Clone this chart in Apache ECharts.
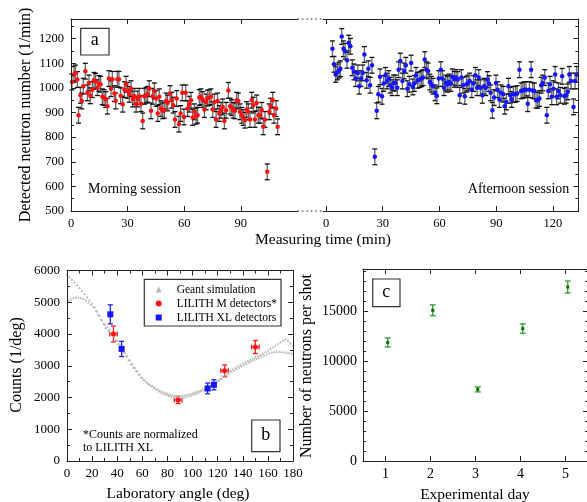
<!DOCTYPE html>
<html><head><meta charset="utf-8">
<script src="https://cdn.jsdelivr.net/npm/echarts@6/dist/echarts.min.js"></script>
<style>html,body{margin:0;padding:0;background:#fff}#c{width:587px;height:502px}</style>
</head><body><div id="c"></div>
<script>
// ---------- Panel a: morning session ----------
const morningTime = [0.5,1.6,2.3,3.4,4,5,5.7,6.5,7.6,8.7,9.5,10.2,11.3,12.2,13,14,14.8,15.7,16.6,17.5,18.4,19.3,20.1,21.2,21.9,23,23.7,24.6,25.4,26.3,27.4,28.3,29.2,30,30.9,31.8,32.7,33.6,34.5,35.3,36.2,37.1,38,38.9,39.8,40.6,41.5,42.4,43.3,44.2,45.1,46,46.8,47.7,48.6,49.5,50.4,51.2,52.5,53.4,54.2,55.1,56,57.2,58.1,59,59.9,60.8,61.8,62.7,63.6,64.5,65.4,66.3,67.1,68,68.9,69.8,70.7,71.6,72.4,73.3,74.2,75.1,76,76.9,77.7,78.6,79.5,80.4,81.3,82.2,83.4,84.3,85.2,86,86.9,87.8,88.7,89.6,90.5,91.3,92.2,93.1,94,94.9,95.8,96.6,97.5,98.4,99.3,100.2,101.1,101.9,102.8,104,105.1,105.8,106.9,107.6,108.7,109.5];
const morningCounts = [1024,1055,1061,1034,889,970,947,1007,1068,980,1020,968,993,1031,1027,1001,1018,1015,964,961,953,926,1038,997,1035,977,947,1035,1035,968,934,993,1015,990,974,997,955,966,934,955,966,936,866,966,970,974,997,907,966,988,957,896,964,916,907,909,947,939,977,950,930,872,957,853,896,980,882,980,916,934,950,880,903,885,889,961,964,953,912,943,959,961,964,912,943,872,947,896,909,923,866,909,990,926,920,909,907,950,947,903,889,880,869,912,903,872,950,930,872,939,889,889,909,842,872,659,903,926,950,889,916,842];
// ---------- Panel a: afternoon session ----------
const afternoonTime = [3.4,4.2,5.1,6,6.9,7.6,8.3,9.2,10.1,11.1,12,12.9,13.9,14.8,15.7,16.8,17.6,18.5,19.4,20.3,21.5,22.4,23.3,24.3,25.8,26.8,27.7,28.6,29.6,30.5,31.4,32.3,33.2,34,34.9,35.8,36.7,37.7,38.4,39.3,40.4,41.3,42.2,43,44.1,45,45.9,46.7,47.6,48.5,49.7,50.6,51.3,52.2,53.1,54,54.9,55.7,56.6,57.7,58.6,59.6,60.7,61.6,62.4,63.3,64.2,65.1,66,66.8,67.9,68.8,69.7,70.7,71.6,72.5,73.4,74.3,75.1,76,77.1,78,79,79.9,80.8,81.7,82.7,83.6,84.5,85.4,86.2,87.1,88,88.9,89.9,90.8,91.7,92.6,93.7,94.5,95.4,96.5,97.4,98.2,99.1,100.2,101.1,102.3,103.2,104.1,104.9,105.8,106.7,107.6,108.5,109.3,110.2,111.1,112,112.9,113.8,114.6,115.7,116.8,117.6,118.5,119.4,120.3,121.2,122,122.9,124,124.9,126.1,127,127.9,128.7,129.6,130.9,131.7,132.6];
const afternoonCounts = [1159,1096,1055,1065,1072,1078,1209,1159,1149,1112,1182,1169,1082,1065,1038,1061,1007,1038,1061,1136,1031,1078,1011,1092,720,907,974,1045,966,1018,1051,1028,1038,1011,1001,1020,1020,1001,1074,1109,1028,1069,1092,997,1015,1101,1004,1018,1051,1031,1034,1038,1042,1115,1074,1069,1024,1015,1007,980,968,1038,1074,1038,1001,1020,1015,1024,1018,1045,1035,1042,1034,970,1042,1011,966,1015,1020,1028,993,1018,1051,1001,1042,1001,970,1007,1001,1034,1018,980,909,961,1020,993,953,980,974,926,943,1007,970,953,974,974,977,1074,988,990,993,993,936,993,1074,990,988,950,950,957,1011,1020,1042,889,988,1015,964,997,1055,964,988,970,1047,966,970,984,1055,1028,923,1028,1055];
const countError = 32;
const timeTicks = [0, 30, 60, 90, 120];

// ---------- Panel b ----------
const simAngleA = [0,2,4,6,8,10,12,14,16,18,20,22,24,26,28,30,32,34,36,38,40,42,44,46,48,50,52,54,56,58,60,62,64,66,68,70,72,74,76,78,80,82,84,86,88,90,92,94,96,98,100,102,104,106,108,110,112,114,116,118,120,122,124,126,128,130,132,134,136,138,140,142,144,146,148,150,152,154,156,158,160,162,164,166,168,170,172,174,176,178,180];
const simCountA = [5870,5800,5720,5640,5550,5460,5370,5270,5170,5070,4970,4850,4720,4580,4440,4320,4230,4150,4050,3930,3800,3680,3550,3420,3300,3180,3060,2950,2840,2730,2620,2550,2480,2420,2370,2320,2270,2230,2190,2160,2130,2100,2080,2060,2050,2050,2070,2080,2100,2120,2140,2170,2200,2230,2270,2300,2340,2380,2430,2480,2540,2600,2670,2740,2800,2850,2900,2950,2990,3040,3080,3120,3160,3200,3240,3280,3310,3350,3390,3440,3490,3540,3590,3640,3700,3750,3800,3840,3800,3720,3640];
const simAngleB = [1,3,5,7,9,11,13,15,17,19,21,23,25,27,29,31,33,35,37,39,41,43,45,47,49,51,53,55,57,59,61,63,65,67,69,71,73,75,77,79,81,83,85,87,89,91,93,95,97,99,101,103,105,107,109,111,113,115,117,119,121,123,125,127,129,131,133,135,137,139,141,143,145,147,149,151,153,155,157,159,161,163,165,167,169,171,173,175,177,179];
const simCountB = [5060,5100,5140,5160,5160,5140,5110,5060,5000,4930,4850,4740,4610,4470,4330,4200,4110,4030,3930,3810,3690,3560,3430,3300,3180,3060,2950,2840,2730,2640,2560,2490,2420,2360,2300,2250,2200,2160,2120,2090,2060,2030,2010,2000,1995,2000,2010,2030,2050,2070,2100,2130,2160,2200,2230,2270,2310,2360,2410,2470,2530,2590,2650,2710,2760,2810,2860,2900,2950,2990,3030,3070,3110,3150,3190,3220,3260,3300,3330,3370,3400,3420,3440,3450,3450,3440,3430,3420,3410,3390];
const mAngle = [37, 88.5, 125.5, 150];
const mCounts = [4000, 1925, 2840, 3590];
const mCountErr = [250, 115, 185, 205];
const mAngleErr = [3, 3, 3, 3];
const xlAngle = [34.5, 43.5, 112, 117];
const xlCounts = [4620, 3530, 2285, 2400];
const xlCountErr = [300, 240, 170, 160];

// ---------- Panel c ----------
const dayPos = [1.05, 2.05, 3.05, 4.05, 5.05];
const neutronsPerShot = [11850, 15070, 7160, 13240, 17400];
const neutronsErr = [450, 540, 250, 470, 600];
const dayTicks = [1, 2, 3, 4, 5];

// ---------- layout / style ----------
const SERIF = 'Liberation Serif';
const INK = '#222';
const G = {
  mL: 71, mW: 226.4, pL: 323.2, pW: 255.2, aT: 19, aH: 192,
  bL: 67, bT: 270.5, bW: 226, bH: 190.5,
  cL: 363, cT: 269, cW: 225, cH: 192
};

function axis(o) {
  const ax = {
    type: 'value', gridIndex: o.grid, position: o.pos, min: o.min, max: o.max,
    splitLine: {show: false},
    axisLine: {show: o.line !== false, onZero: false, lineStyle: {color: INK, width: 1}},
    axisTick: {show: true, inside: true, length: o.tick || 5, lineStyle: {color: INK, width: 1}},
    axisLabel: {show: !!o.labels, fontFamily: SERIF, fontSize: o.fs || 13, color: '#000',
      margin: o.margin || 6, showMaxLabel: !!o.showMax, showMinLabel: true,
      formatter: function (v) { return String(v); }},
    z: 5
  };
  if (o.interval) ax.interval = o.interval;
  if (o.ticks) { ax.axisTick.customValues = o.ticks; ax.axisLabel.customValues = o.ticks; ax.axisLabel.showMaxLabel = true; }
  if (o.minor) ax.minorTick = {show: true, splitNumber: o.minor, length: 3, lineStyle: {color: INK, width: 1}};
  return ax;
}

function errRender(color, capColor, lw, cap) {
  return function (params, api) {
    const x = api.value(0), y = api.value(1), ey = api.value(2), ex = api.value(3);
    const hi = api.coord([x, y + ey]), lo = api.coord([x, y - ey]);
    const st = {stroke: color, lineWidth: lw};
    const cs = {stroke: capColor, lineWidth: lw};
    const ch = [
      {type: 'line', shape: {x1: hi[0], y1: hi[1], x2: lo[0], y2: lo[1]}, style: st},
      {type: 'line', shape: {x1: hi[0] - cap, y1: hi[1], x2: hi[0] + cap, y2: hi[1]}, style: cs},
      {type: 'line', shape: {x1: lo[0] - cap, y1: lo[1], x2: lo[0] + cap, y2: lo[1]}, style: cs}
    ];
    if (ex > 0) {
      const le = api.coord([x - ex, y]), ri = api.coord([x + ex, y]);
      ch.push({type: 'line', shape: {x1: le[0], y1: le[1], x2: ri[0], y2: ri[1]}, style: st});
      ch.push({type: 'line', shape: {x1: le[0], y1: le[1] - cap, x2: le[0], y2: le[1] + cap}, style: cs});
      ch.push({type: 'line', shape: {x1: ri[0], y1: ri[1] - cap, x2: ri[0], y2: ri[1] + cap}, style: cs});
    }
    return {type: 'group', children: ch};
  };
}
function errSeries(xi, yi, data, render) {
  return {type: 'custom', xAxisIndex: xi, yAxisIndex: yi, data: data, renderItem: render,
    encode: {x: 0, y: 1}, silent: true, z: 3, clip: false};
}
function dots(name, xi, yi, data, color, size, symbol) {
  return {type: 'scatter', name: name, xAxisIndex: xi, yAxisIndex: yi, data: data,
    symbol: symbol || 'circle', symbolSize: size, itemStyle: {color: color, opacity: 1}, z: 4, silent: true};
}
function txt(text, x, y, size, opt) {
  opt = opt || {};
  return {type: 'text', x: x, y: y, rotation: opt.rot || 0, z: 20,
    style: {text: text, fontFamily: SERIF, fontSize: size, fill: '#000',
      align: opt.align || 'center', verticalAlign: 'middle'}};
}
function box(label, x, y, w, h) {
  return [
    {type: 'rect', shape: {x: x, y: y, width: w, height: h}, style: {fill: '#fff', stroke: '#333', lineWidth: 1.2}, z: 19},
    txt(label, x + w / 2, y + h / 2 - 1, 18)
  ];
}

const morningData = morningTime.map((t, i) => [t, morningCounts[i], countError]);
const afternoonData = afternoonTime.map((t, i) => [t, afternoonCounts[i], countError]);
const simA = simAngleA.map((a, i) => [a, simCountA[i]]);
const simB = simAngleB.map((a, i) => [a, simCountB[i]]);
const mData = mAngle.map((a, i) => [a, mCounts[i], mCountErr[i], mAngleErr[i]]);
const xlData = xlAngle.map((a, i) => [a, xlCounts[i], xlCountErr[i]]);
const cData = dayPos.map((d, i) => [d, neutronsPerShot[i], neutronsErr[i]]);

const option = {
  animation: false,
  backgroundColor: '#fff',
  grid: [
    {left: G.mL, top: G.aT, width: G.mW, height: G.aH, outerBoundsMode: 'none'},
    {left: G.pL, top: G.aT, width: G.pW, height: G.aH, outerBoundsMode: 'none'},
    {left: G.bL, top: G.bT, width: G.bW, height: G.bH, outerBoundsMode: 'none'},
    {left: G.cL, top: G.cT, width: G.cW, height: G.cH, outerBoundsMode: 'none'}
  ],
  xAxis: [
    axis({grid: 0, pos: 'bottom', min: 0, max: 120, ticks: timeTicks.slice(0, 4), labels: true, fs: 12.5, margin: 6}),
    axis({grid: 0, pos: 'top', min: 0, max: 120, ticks: timeTicks.slice(1, 4)}),
    axis({grid: 1, pos: 'bottom', min: -1.5, max: 133.5, ticks: timeTicks, labels: true, fs: 12.5, margin: 6}),
    axis({grid: 1, pos: 'top', min: -1.5, max: 133.5, ticks: timeTicks}),
    axis({grid: 2, pos: 'bottom', min: 0, max: 180, interval: 20, minor: 2, labels: true, showMax: true, fs: 13, margin: 6}),
    axis({grid: 2, pos: 'top', min: 0, max: 180, interval: 20, minor: 2}),
    axis({grid: 3, pos: 'bottom', min: 0.5, max: 5.5, ticks: dayTicks, labels: true, fs: 14, margin: 6}),
    axis({grid: 3, pos: 'top', min: 0.5, max: 5.5, ticks: dayTicks})
  ],
  yAxis: [
    axis({grid: 0, pos: 'left', min: 500, max: 1280, interval: 100, labels: true, fs: 12.5, margin: 7}),
    axis({grid: 0, pos: 'left', min: 500, max: 1280, interval: 50, tick: 3, line: false}),
    axis({grid: 1, pos: 'right', min: 500, max: 1280, interval: 100}),
    axis({grid: 1, pos: 'right', min: 500, max: 1280, interval: 50, tick: 3, line: false}),
    axis({grid: 2, pos: 'left', min: 0, max: 6000, interval: 1000, minor: 2, labels: true, showMax: true, fs: 13, margin: 7}),
    axis({grid: 2, pos: 'right', min: 0, max: 6000, interval: 1000, minor: 2}),
    axis({grid: 3, pos: 'left', min: 0, max: 19200, interval: 5000, labels: true, fs: 14, margin: 6}),
    axis({grid: 3, pos: 'left', min: 0, max: 19200, interval: 1000, tick: 3, line: false}),
    axis({grid: 3, pos: 'right', min: 0, max: 19200, interval: 5000}),
    axis({grid: 3, pos: 'right', min: 0, max: 19200, interval: 1000, tick: 3, line: false})
  ],
  legend: {
    orient: 'vertical', left: 155.7, top: 282.5, padding: 0, itemGap: 0,
    itemWidth: 6, itemHeight: 6, selectedMode: false,
    textStyle: {fontFamily: SERIF, fontSize: 11.5, color: '#000', lineHeight: 14, padding: [0, 0, 0, 10]},
    data: [
      {name: 'Geant simulation', icon: 'triangle'},
      {name: 'LILITH M detectors*', icon: 'circle'},
      {name: 'LILITH XL detectors', icon: 'rect'}
    ]
  },
  series: [
    errSeries(0, 0, morningData, errRender('#666', '#111', 1.3, 2.5)),
    dots('morning', 0, 0, morningData, '#ff1010', 4.5),
    errSeries(2, 2, afternoonData, errRender('#666', '#111', 1.3, 2.5)),
    dots('afternoon', 2, 2, afternoonData, '#1515ff', 4.5),
    dots('Geant simulation', 4, 4, simA, '#b8b8b8', 2.6, 'triangle'),
    dots('Geant simulation', 4, 4, simB, '#b8b8b8', 2.6, 'triangle'),
    errSeries(4, 4, mData, errRender('#ff2020', '#ff2020', 1.3, 2.5)),
    dots('LILITH M detectors*', 4, 4, mData, '#ff1010', 5),
    errSeries(4, 4, xlData, errRender('#2020ff', '#2020ff', 1.3, 2.5)),
    dots('LILITH XL detectors', 4, 4, xlData, '#1515ff', 6, 'rect'),
    errSeries(6, 6, cData, errRender('#2a9d2a', '#2a9d2a', 1.3, 3)),
    dots('day', 6, 6, cData, '#0d6b0d', 3, 'rect')
  ],
  graphic: [
    {type: 'line', shape: {x1: G.mL + G.mW, y1: G.aT, x2: G.pL, y2: G.aT}, style: {stroke: INK, lineWidth: 1, lineDash: [1.5, 3]}},
    {type: 'line', shape: {x1: G.mL + G.mW, y1: G.aT + G.aH, x2: G.pL, y2: G.aT + G.aH}, style: {stroke: INK, lineWidth: 1, lineDash: [1.5, 3]}},
    ...box('a', 80.7, 28.3, 28.3, 26.7),
    ...box('b', 251.7, 420, 28.3, 31.7),
    ...box('c', 372.7, 279, 27.3, 27.7),
    {type: 'rect', shape: {x: 144.3, y: 279.3, width: 136.7, height: 46.7}, style: {fill: 'none', stroke: '#333', lineWidth: 1.2}, z: 19},
    txt('Morning session', 88, 189, 14, {align: 'left'}),
    txt('Afternoon session', 569.3, 189, 14, {align: 'right'}),
    txt('*Counts are normalized', 83, 435, 12, {align: 'left'}),
    txt('to LILITH XL', 83, 447.5, 12, {align: 'left'}),
    txt('Detected neutron number (1/min)', 26, 115, 16, {rot: Math.PI / 2}),
    txt('Measuring time (min)', 323, 240, 15.5),
    txt('Counts (1/deg)', 17, 365, 16, {rot: Math.PI / 2}),
    txt('Laboratory angle (deg)', 178, 494, 15.5),
    txt('Number of neutrons per shot', 307, 366, 16, {rot: Math.PI / 2}),
    txt('Experimental day', 475, 495, 15.5)
  ]
};
const chart = echarts.init(document.getElementById('c'), null, {renderer: 'canvas', width: 587, height: 502});
chart.setOption(option);
</script>
</body></html>
